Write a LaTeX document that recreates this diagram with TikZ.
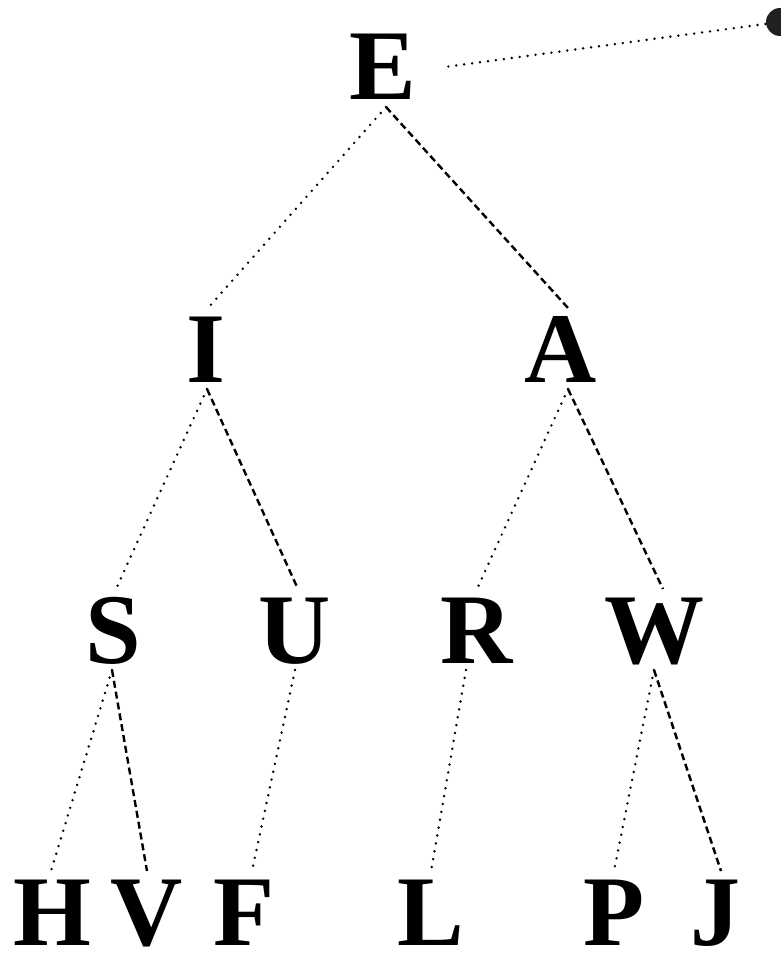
\documentclass[tikz,border=0pt]{standalone}
\usepackage{fontspec}
\setmainfont{Liberation Serif}
\definecolor{dotcol}{HTML}{202020}
\tikzset{
  letter/.style={font=\bfseries\fontsize{100}{100}\selectfont, inner sep=0pt, outer sep=7pt, text height=67pt, text depth=0pt, anchor=base},
  dotline/.style={line width=2.7pt, dash pattern=on 0pt off 8pt, line cap=round},
  dashline/.style={line width=2.4pt, dash pattern=on 7pt off 4pt},
  bigdot/.style={circle, fill=dotcol, inner sep=0pt, minimum size=28pt}
}
\begin{document}
\begin{tikzpicture}[x=1pt,y=-1pt]
\useasboundingbox (0,0) rectangle (781,963);
\node[letter] (E) at (383,100) {E};
\node[letter] (I) at (206,382) {I};
\node[letter] (A) at (561,382) {A};
\node[letter] (S) at (113,663) {S};
\node[letter] (U) at (295,663) {U};
\node[letter] (R) at (477,663) {R};
\node[letter] (W) at (654,663) {W};
\node[letter] (H) at (52,945) {H};
\node[letter] (V) at (147,945) {V};
\node[letter] (F) at (244,945) {F};
\node[letter] (L) at (431,945) {L};
\node[letter] (P) at (614,945) {P};
\node[letter] (J) at (715,945) {J};
\node[bigdot] (dot) at (780,22) {};
\draw[dotline] ([xshift=25pt]E.east) -- (dot);
\draw[dotline] ([xshift=3pt]E.south) -- ([xshift=2pt]I.north);
\draw[dashline] ([xshift=3pt]E.south) -- ([xshift=7pt]A.north);
\draw[dotline] ([xshift=1pt]I.south) -- ([xshift=3pt]S.north);
\draw[dashline] ([xshift=1pt]I.south) -- ([xshift=3pt]U.north);
\draw[dotline] ([xshift=7pt]A.south) -- (R.north);
\draw[dashline] ([xshift=7pt]A.south) -- ([xshift=9pt]W.north);
\draw[dotline] ([xshift=-1pt]S.south) -- ([xshift=-1pt]H.north);
\draw[dashline] ([xshift=-1pt]S.south) -- (V.north);
\draw[dotline] (U.south) -- ([xshift=8pt]F.north);
\draw[dotline] ([xshift=-11pt]R.south) -- (L.north);
\draw[dotline] (W.south) -- (P.north);
\draw[dashline] (W.south) -- ([xshift=6pt]J.north);
\end{tikzpicture}
\end{document}
